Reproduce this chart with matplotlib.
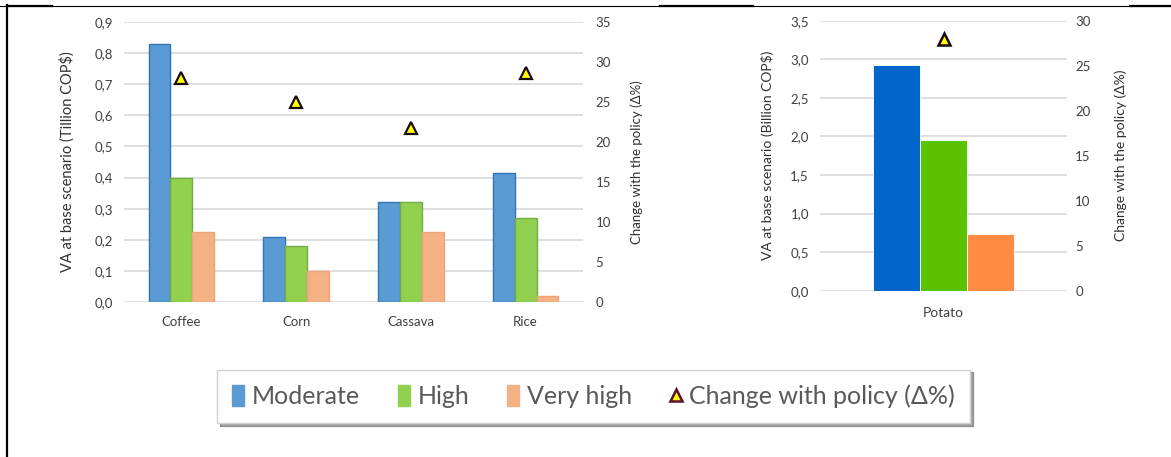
import matplotlib
matplotlib.use("Agg")
import matplotlib.pyplot as plt
from matplotlib.patches import Patch
from matplotlib.lines import Line2D
import numpy as np

plt.rcParams['font.family'] = ['Lato', 'DejaVu Sans']

# ---- data ----
crops = ["Coffee", "Corn", "Cassava", "Rice"]
moderate = [0.83, 0.21, 0.32, 0.415]
high = [0.40, 0.18, 0.32, 0.27]
very_high = [0.225, 0.10, 0.225, 0.02]
change_pct = [28.0, 25.0, 21.8, 28.6]

potato_cat = ["Potato"]
potato_moderate = [2.92]
potato_high = [1.96]
potato_very_high = [0.73]
potato_change = [28.0]

left_yticks = [0.0, 0.1, 0.2, 0.3, 0.4, 0.5, 0.6, 0.7, 0.8, 0.9]
left_ylabels = ["0,0", "0,1", "0,2", "0,3", "0,4", "0,5", "0,6", "0,7", "0,8", "0,9"]
left_y2ticks = [0, 5, 10, 15, 20, 25, 30, 35]
right_yticks = [0.0, 0.5, 1.0, 1.5, 2.0, 2.5, 3.0, 3.5]
right_ylabels = ["0,0", "0,5", "1,0", "1,5", "2,0", "2,5", "3,0", "3,5"]
right_y2ticks = [0, 5, 10, 15, 20, 25, 30]

series_names = ["Moderate", "High", "Very high"]
legend_delta = "Change with policy (Δ%)"

# ---- style ----
W, H = 1171, 457
fig = plt.figure(figsize=(W / 100, H / 100), dpi=100)
fig.patch.set_facecolor("white")

grid_c = "#D9D9D9"
tick_c = "#404040"

lc_fill = ["#5B9BD5", "#92D050", "#F4B183"]
lc_edge = ["#2E75B6", "#70AD47", "#EDA577"]
rc_fill = ["#0066CC", "#5BC100", "#FF8C42"]
tri_face = "#FFFF00"
tri_edge = "#1a0a10"


def style_axes(ax, ax2):
    for a in (ax, ax2):
        for s in a.spines.values():
            s.set_visible(False)
        a.tick_params(length=0, colors=tick_c)
    ax.set_axisbelow(True)
    ax.yaxis.grid(True, color=grid_c, linewidth=1.2)
    ax.xaxis.grid(False)


# ---- left chart ----
ax1 = fig.add_axes([124 / W, 1 - 302 / H, (583 - 124) / W, (302 - 22) / H])
x = np.arange(len(crops))
bw = 0.19
for i, (vals, fc, ec) in enumerate(zip([moderate, high, very_high], lc_fill, lc_edge)):
    ax1.bar(x + (i - 1) * bw, vals, bw, color=fc, edgecolor=ec, linewidth=1.0, zorder=2)
ax1.set_xlim(-0.5, len(crops) - 0.5)
ax1.set_ylim(0, 0.9)
ax1.set_yticks(left_yticks)
ax1.set_yticklabels(left_ylabels, fontsize=9.5)
ax1.set_xticks(x)
ax1.set_xticklabels(crops, fontsize=9.5, color="#202020")
ax1.tick_params(axis="x", pad=10)
ax1.tick_params(axis="y", pad=8)
ax1.set_ylabel("VA at base scenario (Tillion COP$)", fontsize=10.5, color="#303030", labelpad=14)

ax1b = ax1.twinx()
ax1b.plot(x, change_pct, linestyle="none", marker="^", markersize=8,
          markerfacecolor=tri_face, markeredgecolor=tri_edge, markeredgewidth=1.6, zorder=3)
ax1b.set_ylim(0, 35)
ax1b.set_yticks(left_y2ticks)
ax1b.set_yticklabels([str(v) for v in left_y2ticks], fontsize=9.5)
ax1b.tick_params(axis="y", pad=9)
ax1b.set_ylabel("Change with the policy (Δ%)", fontsize=9.5, color="#303030", labelpad=14)
style_axes(ax1, ax1b)

# ---- right chart ----
ax2 = fig.add_axes([820 / W, 1 - 290.7 / H, (1067 - 820) / W, (290.7 - 20.7) / H])
xp = np.arange(len(potato_cat))
bw2 = 0.19
for i, (vals, fc) in enumerate(zip([potato_moderate, potato_high, potato_very_high], rc_fill)):
    ax2.bar(xp + (i - 1) * bw2, vals, bw2, color=fc, edgecolor="white", linewidth=0.6, zorder=2)
ax2.set_xlim(-0.5, 0.5)
ax2.set_ylim(0, 3.5)
ax2.set_yticks(right_yticks)
ax2.set_yticklabels(right_ylabels, fontsize=9.5, color="#505050")
ax2.set_xticks(xp)
ax2.set_xticklabels(potato_cat, fontsize=10, color="#303030")
ax2.tick_params(axis="x", pad=12)
ax2.tick_params(axis="y", pad=8)
ax2.set_ylabel("VA at base scenario (Billion COP$)", fontsize=10, color="#303030", labelpad=12)

ax2b = ax2.twinx()
ax2b.plot(xp, potato_change, linestyle="none", marker="^", markersize=9,
          markerfacecolor=tri_face, markeredgecolor=tri_edge, markeredgewidth=1.8, zorder=3)
ax2b.set_ylim(0, 30)
ax2b.set_yticks(right_y2ticks)
ax2b.set_yticklabels([str(v) for v in right_y2ticks], fontsize=9.5, color="#505050")
ax2b.tick_params(axis="y", pad=6)
ax2b.set_ylabel("Change with the policy (Δ%)", fontsize=10, color="#303030", labelpad=17)
style_axes(ax2, ax2b)

# ---- legend ----
handles = [Patch(facecolor=lc_fill[i], edgecolor=lc_fill[i], label=series_names[i]) for i in range(3)]
handles.append(Line2D([], [], linestyle="none", marker="^", markersize=8,
                      markerfacecolor=tri_face, markeredgecolor="#5B0F2E", markeredgewidth=1.8,
                      label=legend_delta))
leg = fig.legend(handles=handles, loc="center", bbox_to_anchor=(593.5 / W, 1 - 396.5 / H),
                 ncol=4, fontsize=18, frameon=True, fancybox=False, shadow=True,
                 handlelength=0.5, handleheight=0.9, handletextpad=0.3, columnspacing=1.5,
                 borderpad=0.6, edgecolor="#D0D0D0", labelcolor="#595959")
leg.get_frame().set_linewidth(1.0)

# ---- page borders ----
fig.add_artist(Line2D([0, 1], [1 - 5.5 / H, 1 - 5.5 / H], transform=fig.transFigure, color="black", linewidth=0.8))
for x0, x1 in [(7, 52), (660, 753), (1130, 1171)]:
    fig.add_artist(Line2D([x0 / W, x1 / W], [1 - 5.5 / H, 1 - 5.5 / H], transform=fig.transFigure,
                          color="black", linewidth=1.6))
fig.add_artist(Line2D([6.5 / W, 6.5 / W], [0, 1 - 5 / H], transform=fig.transFigure, color="black", linewidth=1.6))

fig.savefig("out.png", dpi=100, facecolor="white")
